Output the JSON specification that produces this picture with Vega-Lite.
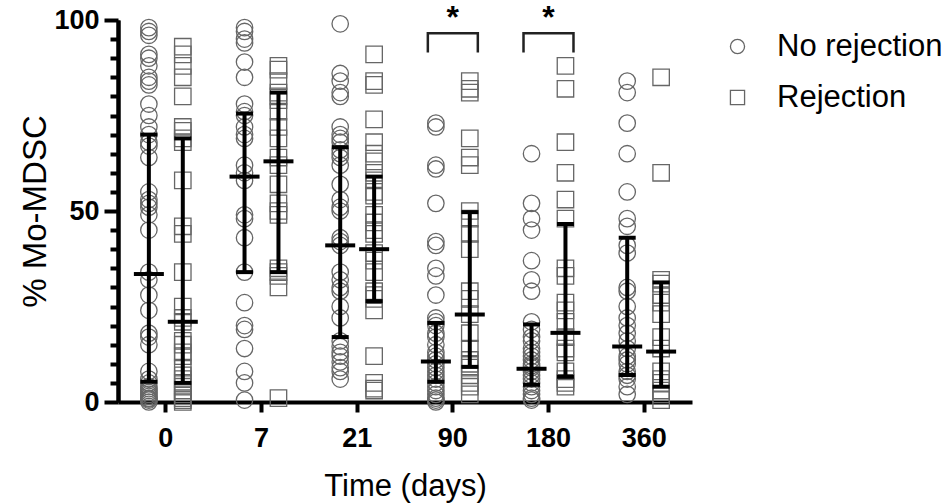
{
  "$schema": "https://vega.github.io/schema/vega-lite/v6.json",
  "width": 574,
  "height": 382,
  "autosize": "none",
  "padding": {"left": 118, "top": 20, "right": 253, "bottom": 101},
  "background": "white",
  "datasets": {
    "points": [
      {"t": "0", "g": "No rejection", "v": 98}, {"t": "0", "g": "No rejection", "v": 97}, {"t": "0", "g": "No rejection", "v": 96},
      {"t": "0", "g": "No rejection", "v": 91}, {"t": "0", "g": "No rejection", "v": 90}, {"t": "0", "g": "No rejection", "v": 88},
      {"t": "0", "g": "No rejection", "v": 85}, {"t": "0", "g": "No rejection", "v": 84}, {"t": "0", "g": "No rejection", "v": 83},
      {"t": "0", "g": "No rejection", "v": 78}, {"t": "0", "g": "No rejection", "v": 75}, {"t": "0", "g": "No rejection", "v": 72},
      {"t": "0", "g": "No rejection", "v": 70}, {"t": "0", "g": "No rejection", "v": 68}, {"t": "0", "g": "No rejection", "v": 67},
      {"t": "0", "g": "No rejection", "v": 64}, {"t": "0", "g": "No rejection", "v": 55}, {"t": "0", "g": "No rejection", "v": 53},
      {"t": "0", "g": "No rejection", "v": 52}, {"t": "0", "g": "No rejection", "v": 51}, {"t": "0", "g": "No rejection", "v": 49},
      {"t": "0", "g": "No rejection", "v": 45}, {"t": "0", "g": "No rejection", "v": 34}, {"t": "0", "g": "No rejection", "v": 32},
      {"t": "0", "g": "No rejection", "v": 28}, {"t": "0", "g": "No rejection", "v": 24}, {"t": "0", "g": "No rejection", "v": 18},
      {"t": "0", "g": "No rejection", "v": 17}, {"t": "0", "g": "No rejection", "v": 15}, {"t": "0", "g": "No rejection", "v": 8},
      {"t": "0", "g": "No rejection", "v": 6}, {"t": "0", "g": "No rejection", "v": 5}, {"t": "0", "g": "No rejection", "v": 4},
      {"t": "0", "g": "No rejection", "v": 3.5}, {"t": "0", "g": "No rejection", "v": 3}, {"t": "0", "g": "No rejection", "v": 2.5},
      {"t": "0", "g": "No rejection", "v": 2}, {"t": "0", "g": "No rejection", "v": 1.5}, {"t": "0", "g": "No rejection", "v": 1},
      {"t": "0", "g": "No rejection", "v": 0.8}, {"t": "0", "g": "No rejection", "v": 0.5}, {"t": "0", "g": "No rejection", "v": 0},

      {"t": "0", "g": "Rejection", "v": 93}, {"t": "0", "g": "Rejection", "v": 91}, {"t": "0", "g": "Rejection", "v": 88},
      {"t": "0", "g": "Rejection", "v": 85}, {"t": "0", "g": "Rejection", "v": 80}, {"t": "0", "g": "Rejection", "v": 72},
      {"t": "0", "g": "Rejection", "v": 71}, {"t": "0", "g": "Rejection", "v": 69}, {"t": "0", "g": "Rejection", "v": 68},
      {"t": "0", "g": "Rejection", "v": 58}, {"t": "0", "g": "Rejection", "v": 46}, {"t": "0", "g": "Rejection", "v": 44},
      {"t": "0", "g": "Rejection", "v": 34}, {"t": "0", "g": "Rejection", "v": 25}, {"t": "0", "g": "Rejection", "v": 22},
      {"t": "0", "g": "Rejection", "v": 21}, {"t": "0", "g": "Rejection", "v": 16}, {"t": "0", "g": "Rejection", "v": 15},
      {"t": "0", "g": "Rejection", "v": 13}, {"t": "0", "g": "Rejection", "v": 12}, {"t": "0", "g": "Rejection", "v": 9},
      {"t": "0", "g": "Rejection", "v": 7}, {"t": "0", "g": "Rejection", "v": 6}, {"t": "0", "g": "Rejection", "v": 5},
      {"t": "0", "g": "Rejection", "v": 4}, {"t": "0", "g": "Rejection", "v": 3}, {"t": "0", "g": "Rejection", "v": 2},
      {"t": "0", "g": "Rejection", "v": 1}, {"t": "0", "g": "Rejection", "v": 0.5}, {"t": "0", "g": "Rejection", "v": 0},

      {"t": "7", "g": "No rejection", "v": 98}, {"t": "7", "g": "No rejection", "v": 97}, {"t": "7", "g": "No rejection", "v": 95},
      {"t": "7", "g": "No rejection", "v": 94}, {"t": "7", "g": "No rejection", "v": 89}, {"t": "7", "g": "No rejection", "v": 85},
      {"t": "7", "g": "No rejection", "v": 78}, {"t": "7", "g": "No rejection", "v": 76}, {"t": "7", "g": "No rejection", "v": 75},
      {"t": "7", "g": "No rejection", "v": 72}, {"t": "7", "g": "No rejection", "v": 70}, {"t": "7", "g": "No rejection", "v": 69},
      {"t": "7", "g": "No rejection", "v": 62}, {"t": "7", "g": "No rejection", "v": 60}, {"t": "7", "g": "No rejection", "v": 58},
      {"t": "7", "g": "No rejection", "v": 49}, {"t": "7", "g": "No rejection", "v": 48}, {"t": "7", "g": "No rejection", "v": 43},
      {"t": "7", "g": "No rejection", "v": 34}, {"t": "7", "g": "No rejection", "v": 26}, {"t": "7", "g": "No rejection", "v": 20},
      {"t": "7", "g": "No rejection", "v": 19}, {"t": "7", "g": "No rejection", "v": 14}, {"t": "7", "g": "No rejection", "v": 8},
      {"t": "7", "g": "No rejection", "v": 5}, {"t": "7", "g": "No rejection", "v": 0.5},

      {"t": "7", "g": "Rejection", "v": 88}, {"t": "7", "g": "Rejection", "v": 87}, {"t": "7", "g": "Rejection", "v": 84},
      {"t": "7", "g": "Rejection", "v": 81}, {"t": "7", "g": "Rejection", "v": 80}, {"t": "7", "g": "Rejection", "v": 79},
      {"t": "7", "g": "Rejection", "v": 76}, {"t": "7", "g": "Rejection", "v": 72}, {"t": "7", "g": "Rejection", "v": 69},
      {"t": "7", "g": "Rejection", "v": 64}, {"t": "7", "g": "Rejection", "v": 62}, {"t": "7", "g": "Rejection", "v": 57},
      {"t": "7", "g": "Rejection", "v": 52}, {"t": "7", "g": "Rejection", "v": 50}, {"t": "7", "g": "Rejection", "v": 49},
      {"t": "7", "g": "Rejection", "v": 35}, {"t": "7", "g": "Rejection", "v": 34}, {"t": "7", "g": "Rejection", "v": 33},
      {"t": "7", "g": "Rejection", "v": 30}, {"t": "7", "g": "Rejection", "v": 1},

      {"t": "21", "g": "No rejection", "v": 99}, {"t": "21", "g": "No rejection", "v": 86}, {"t": "21", "g": "No rejection", "v": 84},
      {"t": "21", "g": "No rejection", "v": 81}, {"t": "21", "g": "No rejection", "v": 80}, {"t": "21", "g": "No rejection", "v": 72},
      {"t": "21", "g": "No rejection", "v": 70}, {"t": "21", "g": "No rejection", "v": 69}, {"t": "21", "g": "No rejection", "v": 68},
      {"t": "21", "g": "No rejection", "v": 66}, {"t": "21", "g": "No rejection", "v": 65}, {"t": "21", "g": "No rejection", "v": 64},
      {"t": "21", "g": "No rejection", "v": 62}, {"t": "21", "g": "No rejection", "v": 57}, {"t": "21", "g": "No rejection", "v": 53},
      {"t": "21", "g": "No rejection", "v": 51}, {"t": "21", "g": "No rejection", "v": 50}, {"t": "21", "g": "No rejection", "v": 43},
      {"t": "21", "g": "No rejection", "v": 42}, {"t": "21", "g": "No rejection", "v": 41}, {"t": "21", "g": "No rejection", "v": 34},
      {"t": "21", "g": "No rejection", "v": 32}, {"t": "21", "g": "No rejection", "v": 30}, {"t": "21", "g": "No rejection", "v": 29},
      {"t": "21", "g": "No rejection", "v": 25}, {"t": "21", "g": "No rejection", "v": 22}, {"t": "21", "g": "No rejection", "v": 16},
      {"t": "21", "g": "No rejection", "v": 14.5}, {"t": "21", "g": "No rejection", "v": 13}, {"t": "21", "g": "No rejection", "v": 12},
      {"t": "21", "g": "No rejection", "v": 10.5}, {"t": "21", "g": "No rejection", "v": 9}, {"t": "21", "g": "No rejection", "v": 8},
      {"t": "21", "g": "No rejection", "v": 6},

      {"t": "21", "g": "Rejection", "v": 91}, {"t": "21", "g": "Rejection", "v": 84}, {"t": "21", "g": "Rejection", "v": 83},
      {"t": "21", "g": "Rejection", "v": 74}, {"t": "21", "g": "Rejection", "v": 68}, {"t": "21", "g": "Rejection", "v": 65},
      {"t": "21", "g": "Rejection", "v": 63}, {"t": "21", "g": "Rejection", "v": 60}, {"t": "21", "g": "Rejection", "v": 58},
      {"t": "21", "g": "Rejection", "v": 55}, {"t": "21", "g": "Rejection", "v": 54}, {"t": "21", "g": "Rejection", "v": 49},
      {"t": "21", "g": "Rejection", "v": 47}, {"t": "21", "g": "Rejection", "v": 45}, {"t": "21", "g": "Rejection", "v": 44},
      {"t": "21", "g": "Rejection", "v": 39}, {"t": "21", "g": "Rejection", "v": 37}, {"t": "21", "g": "Rejection", "v": 34},
      {"t": "21", "g": "Rejection", "v": 29}, {"t": "21", "g": "Rejection", "v": 28}, {"t": "21", "g": "Rejection", "v": 27},
      {"t": "21", "g": "Rejection", "v": 24}, {"t": "21", "g": "Rejection", "v": 12}, {"t": "21", "g": "Rejection", "v": 5},
      {"t": "21", "g": "Rejection", "v": 3.5}, {"t": "21", "g": "Rejection", "v": 3},

      {"t": "90", "g": "No rejection", "v": 73}, {"t": "90", "g": "No rejection", "v": 72}, {"t": "90", "g": "No rejection", "v": 62},
      {"t": "90", "g": "No rejection", "v": 61}, {"t": "90", "g": "No rejection", "v": 52}, {"t": "90", "g": "No rejection", "v": 42},
      {"t": "90", "g": "No rejection", "v": 41}, {"t": "90", "g": "No rejection", "v": 35}, {"t": "90", "g": "No rejection", "v": 33},
      {"t": "90", "g": "No rejection", "v": 28}, {"t": "90", "g": "No rejection", "v": 22}, {"t": "90", "g": "No rejection", "v": 21},
      {"t": "90", "g": "No rejection", "v": 20}, {"t": "90", "g": "No rejection", "v": 18}, {"t": "90", "g": "No rejection", "v": 17},
      {"t": "90", "g": "No rejection", "v": 15}, {"t": "90", "g": "No rejection", "v": 13}, {"t": "90", "g": "No rejection", "v": 12},
      {"t": "90", "g": "No rejection", "v": 11}, {"t": "90", "g": "No rejection", "v": 10}, {"t": "90", "g": "No rejection", "v": 9},
      {"t": "90", "g": "No rejection", "v": 8}, {"t": "90", "g": "No rejection", "v": 7}, {"t": "90", "g": "No rejection", "v": 6},
      {"t": "90", "g": "No rejection", "v": 5}, {"t": "90", "g": "No rejection", "v": 4}, {"t": "90", "g": "No rejection", "v": 3},
      {"t": "90", "g": "No rejection", "v": 2}, {"t": "90", "g": "No rejection", "v": 1}, {"t": "90", "g": "No rejection", "v": 0.5},
      {"t": "90", "g": "No rejection", "v": 0},

      {"t": "90", "g": "Rejection", "v": 84}, {"t": "90", "g": "Rejection", "v": 82}, {"t": "90", "g": "Rejection", "v": 81},
      {"t": "90", "g": "Rejection", "v": 69}, {"t": "90", "g": "Rejection", "v": 64}, {"t": "90", "g": "Rejection", "v": 62},
      {"t": "90", "g": "Rejection", "v": 50}, {"t": "90", "g": "Rejection", "v": 48}, {"t": "90", "g": "Rejection", "v": 44},
      {"t": "90", "g": "Rejection", "v": 40}, {"t": "90", "g": "Rejection", "v": 29}, {"t": "90", "g": "Rejection", "v": 27},
      {"t": "90", "g": "Rejection", "v": 23}, {"t": "90", "g": "Rejection", "v": 18}, {"t": "90", "g": "Rejection", "v": 14},
      {"t": "90", "g": "Rejection", "v": 11}, {"t": "90", "g": "Rejection", "v": 10}, {"t": "90", "g": "Rejection", "v": 9},
      {"t": "90", "g": "Rejection", "v": 7}, {"t": "90", "g": "Rejection", "v": 5}, {"t": "90", "g": "Rejection", "v": 4},
      {"t": "90", "g": "Rejection", "v": 2},

      {"t": "180", "g": "No rejection", "v": 65}, {"t": "180", "g": "No rejection", "v": 52}, {"t": "180", "g": "No rejection", "v": 48},
      {"t": "180", "g": "No rejection", "v": 45}, {"t": "180", "g": "No rejection", "v": 37}, {"t": "180", "g": "No rejection", "v": 32},
      {"t": "180", "g": "No rejection", "v": 29}, {"t": "180", "g": "No rejection", "v": 21}, {"t": "180", "g": "No rejection", "v": 19},
      {"t": "180", "g": "No rejection", "v": 17}, {"t": "180", "g": "No rejection", "v": 16}, {"t": "180", "g": "No rejection", "v": 14},
      {"t": "180", "g": "No rejection", "v": 13}, {"t": "180", "g": "No rejection", "v": 12}, {"t": "180", "g": "No rejection", "v": 11},
      {"t": "180", "g": "No rejection", "v": 10}, {"t": "180", "g": "No rejection", "v": 9.5}, {"t": "180", "g": "No rejection", "v": 9},
      {"t": "180", "g": "No rejection", "v": 8}, {"t": "180", "g": "No rejection", "v": 7}, {"t": "180", "g": "No rejection", "v": 6},
      {"t": "180", "g": "No rejection", "v": 5}, {"t": "180", "g": "No rejection", "v": 4}, {"t": "180", "g": "No rejection", "v": 3},
      {"t": "180", "g": "No rejection", "v": 2}, {"t": "180", "g": "No rejection", "v": 1}, {"t": "180", "g": "No rejection", "v": 0.5},

      {"t": "180", "g": "Rejection", "v": 88}, {"t": "180", "g": "Rejection", "v": 82}, {"t": "180", "g": "Rejection", "v": 68},
      {"t": "180", "g": "Rejection", "v": 60}, {"t": "180", "g": "Rejection", "v": 53}, {"t": "180", "g": "Rejection", "v": 48},
      {"t": "180", "g": "Rejection", "v": 35}, {"t": "180", "g": "Rejection", "v": 33}, {"t": "180", "g": "Rejection", "v": 26},
      {"t": "180", "g": "Rejection", "v": 24}, {"t": "180", "g": "Rejection", "v": 21}, {"t": "180", "g": "Rejection", "v": 17},
      {"t": "180", "g": "Rejection", "v": 14}, {"t": "180", "g": "Rejection", "v": 13}, {"t": "180", "g": "Rejection", "v": 8},
      {"t": "180", "g": "Rejection", "v": 6}, {"t": "180", "g": "Rejection", "v": 5}, {"t": "180", "g": "Rejection", "v": 4},

      {"t": "360", "g": "No rejection", "v": 84}, {"t": "360", "g": "No rejection", "v": 81}, {"t": "360", "g": "No rejection", "v": 73},
      {"t": "360", "g": "No rejection", "v": 65}, {"t": "360", "g": "No rejection", "v": 55}, {"t": "360", "g": "No rejection", "v": 48},
      {"t": "360", "g": "No rejection", "v": 46}, {"t": "360", "g": "No rejection", "v": 41}, {"t": "360", "g": "No rejection", "v": 39},
      {"t": "360", "g": "No rejection", "v": 30}, {"t": "360", "g": "No rejection", "v": 29}, {"t": "360", "g": "No rejection", "v": 25},
      {"t": "360", "g": "No rejection", "v": 22}, {"t": "360", "g": "No rejection", "v": 20}, {"t": "360", "g": "No rejection", "v": 18},
      {"t": "360", "g": "No rejection", "v": 16}, {"t": "360", "g": "No rejection", "v": 14}, {"t": "360", "g": "No rejection", "v": 12},
      {"t": "360", "g": "No rejection", "v": 11}, {"t": "360", "g": "No rejection", "v": 10}, {"t": "360", "g": "No rejection", "v": 8},
      {"t": "360", "g": "No rejection", "v": 7}, {"t": "360", "g": "No rejection", "v": 6}, {"t": "360", "g": "No rejection", "v": 4},
      {"t": "360", "g": "No rejection", "v": 2},

      {"t": "360", "g": "Rejection", "v": 85}, {"t": "360", "g": "Rejection", "v": 60}, {"t": "360", "g": "Rejection", "v": 32},
      {"t": "360", "g": "Rejection", "v": 31}, {"t": "360", "g": "Rejection", "v": 28}, {"t": "360", "g": "Rejection", "v": 26},
      {"t": "360", "g": "Rejection", "v": 23}, {"t": "360", "g": "Rejection", "v": 17}, {"t": "360", "g": "Rejection", "v": 14},
      {"t": "360", "g": "Rejection", "v": 8}, {"t": "360", "g": "Rejection", "v": 6}, {"t": "360", "g": "Rejection", "v": 5},
      {"t": "360", "g": "Rejection", "v": 3}, {"t": "360", "g": "Rejection", "v": 2}, {"t": "360", "g": "Rejection", "v": 0.5}
    ],
    "summary": [
      {"t": "0", "g": "No rejection", "med": 33.5, "lo": 5.3, "hi": 70},
      {"t": "0", "g": "Rejection", "med": 21, "lo": 5, "hi": 69},
      {"t": "7", "g": "No rejection", "med": 59, "lo": 34, "hi": 75.5},
      {"t": "7", "g": "Rejection", "med": 63, "lo": 34, "hi": 81},
      {"t": "21", "g": "No rejection", "med": 41, "lo": 17, "hi": 66.7},
      {"t": "21", "g": "Rejection", "med": 40, "lo": 26.4, "hi": 59},
      {"t": "90", "g": "No rejection", "med": 10.6, "lo": 5.3, "hi": 20.7},
      {"t": "90", "g": "Rejection", "med": 22.9, "lo": 9.2, "hi": 49.7},
      {"t": "180", "g": "No rejection", "med": 8.7, "lo": 4.5, "hi": 20.3},
      {"t": "180", "g": "Rejection", "med": 18.1, "lo": 6.6, "hi": 46.6},
      {"t": "360", "g": "No rejection", "med": 14.5, "lo": 7.1, "hi": 43},
      {"t": "360", "g": "Rejection", "med": 13.2, "lo": 4, "hi": 31.3}
    ],
    "brackets": [
      {"t": "90", "side": "left", "y": 91.5, "ord": 1},
      {"t": "90", "side": "left", "y": 96.5, "ord": 2},
      {"t": "90", "side": "right", "y": 96.5, "ord": 3},
      {"t": "90", "side": "right", "y": 91.5, "ord": 4},
      {"t": "180", "side": "left", "y": 91.5, "ord": 1},
      {"t": "180", "side": "left", "y": 96.5, "ord": 2},
      {"t": "180", "side": "right", "y": 96.5, "ord": 3},
      {"t": "180", "side": "right", "y": 91.5, "ord": 4}
    ],
    "stars": [
      {"t": "90", "y": 97.8, "label": "*"},
      {"t": "180", "y": 97.8, "label": "*"}
    ]
  },
  "encoding": {
    "x": {
      "field": "t", "type": "nominal",
      "sort": ["0", "7", "21", "90", "180", "360"],
      "scale": {"type": "band", "paddingInner": 0, "paddingOuter": 0},
      "axis": {
        "title": "Time (days)", "labelAngle": 0, "labelFontSize": 27, "labelFontWeight": "bold",
        "labelPadding": 13, "tickSize": 10, "tickWidth": 4, "tickColor": "black",
        "domainWidth": 4, "domainColor": "black", "titleFontSize": 31, "titleFontWeight": "normal",
        "titlePadding": 20, "labelColor": "black", "titleColor": "black"
      }
    }
  },
  "resolve": {"scale": {"xOffset": "independent"}, "axis": {"y": "independent"}},
  "layer": [
    {
      "data": {"name": "points"},
      "mark": {"type": "point", "filled": false, "color": "#666666", "strokeWidth": 1.3, "size": 270, "opacity": 1},
      "encoding": {
        "xOffset": {"field": "g", "type": "nominal", "scale": {"type": "band", "paddingOuter": 0.41, "paddingInner": 0}},
        "y": {
          "field": "v", "type": "quantitative",
          "scale": {"domain": [0, 100], "nice": false},
          "axis": {
            "orient": "left", "title": null, "labels": false,
            "values": [5, 10, 15, 20, 25, 30, 35, 40, 45, 55, 60, 65, 70, 75, 80, 85, 90, 95],
            "tickSize": 8, "tickWidth": 4, "tickColor": "black",
            "domainWidth": 4, "domainColor": "black", "grid": false
          }
        },
        "shape": {
          "field": "g", "type": "nominal",
          "scale": {"domain": ["No rejection", "Rejection"], "range": ["circle", "square"]},
          "legend": {
            "title": null, "orient": "none", "legendX": 604, "legendY": 11,
            "labelFontSize": 31, "labelColor": "black", "labelLimit": 0, "symbolSize": 200, "symbolStrokeWidth": 1.3,
            "symbolStrokeColor": "#666666", "symbolFillColor": "transparent", "labelOffset": 24, "rowPadding": 19
          }
        }
      }
    },
    {
      "data": {"name": "summary"},
      "mark": {"type": "rule", "color": "black", "strokeWidth": 4, "opacity": 1},
      "encoding": {
        "xOffset": {"field": "g", "type": "nominal", "scale": {"type": "band", "paddingOuter": 0.41, "paddingInner": 0}},
        "y": {
          "field": "lo", "type": "quantitative",
          "axis": {
            "orient": "left", "title": "% Mo-MDSC", "values": [0, 50, 100],
            "tickSize": 14, "tickWidth": 4, "tickColor": "black", "domainWidth": 4, "domainColor": "black",
            "labelFontSize": 27, "labelFontWeight": "bold", "labelColor": "black", "labelPadding": 5,
            "titleFontSize": 33, "titleFontWeight": "normal", "titleColor": "black", "titlePadding": 1,
            "grid": false
          }
        },
        "y2": {"field": "hi"}
      }
    },
    {
      "data": {"name": "summary"},
      "mark": {"type": "tick", "color": "black", "thickness": 4, "size": 17, "opacity": 1},
      "encoding": {
        "xOffset": {"field": "g", "type": "nominal", "scale": {"type": "band", "paddingOuter": 0.41, "paddingInner": 0}},
        "y": {"field": "lo", "type": "quantitative", "axis": null}
      }
    },
    {
      "data": {"name": "summary"},
      "mark": {"type": "tick", "color": "black", "thickness": 4, "size": 17, "opacity": 1},
      "encoding": {
        "xOffset": {"field": "g", "type": "nominal", "scale": {"type": "band", "paddingOuter": 0.41, "paddingInner": 0}},
        "y": {"field": "hi", "type": "quantitative", "axis": null}
      }
    },
    {
      "data": {"name": "summary"},
      "mark": {"type": "tick", "color": "black", "thickness": 4, "size": 30, "opacity": 1},
      "encoding": {
        "xOffset": {"field": "g", "type": "nominal", "scale": {"type": "band", "paddingOuter": 0.41, "paddingInner": 0}},
        "y": {"field": "med", "type": "quantitative", "axis": null}
      }
    },
    {
      "data": {"name": "brackets"},
      "mark": {"type": "line", "color": "#222222", "strokeWidth": 2.5, "clip": false},
      "encoding": {
        "xOffset": {"field": "side", "type": "nominal", "scale": {"type": "point", "padding": 0.457}},
        "y": {"field": "y", "type": "quantitative", "axis": null},
        "detail": {"field": "t"},
        "order": {"field": "ord"}
      }
    },
    {
      "data": {"name": "stars"},
      "mark": {"type": "text", "fontSize": 32, "fontWeight": "bold", "color": "black", "baseline": "alphabetic"},
      "encoding": {
        "y": {"field": "y", "type": "quantitative", "axis": null},
        "text": {"field": "label"}
      }
    }
  ],
  "config": {
    "font": "Liberation Sans",
    "view": {"stroke": null}
  }
}
